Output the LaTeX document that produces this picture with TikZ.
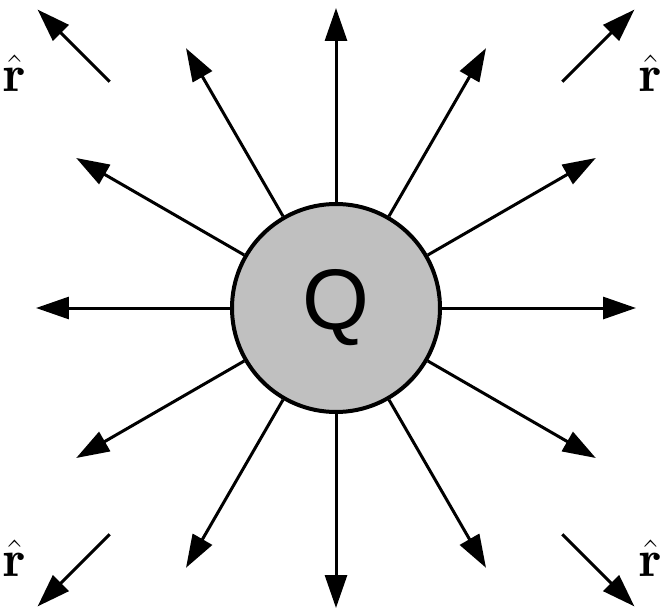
\documentclass[tikz,border=0pt]{standalone}
\usepackage{amsmath,amssymb,bm}
\usepackage{fontspec}
\usepackage{tikz}
\usetikzlibrary{arrows.meta}
\newfontfamily\chargefont{Liberation Sans}
\definecolor{chargegray}{RGB}{192,192,192}

\begin{document}
\begin{tikzpicture}[x=0.5pt, y=0.5pt,
    field/.style={line width=1.5pt, -{Triangle[length=16.5pt, width=11pt]}},
    rlabel/.style={font=\fontsize{26}{26}\selectfont}]
    \useasboundingbox (-336,-302) rectangle (327,308);

    % The charge: grey disc in the middle
    \node[draw, circle, line width=2pt, fill=chargegray, minimum size=104pt,
          inner sep=0pt, font=\chargefont\fontsize{43}{43}\selectfont] (Q) at (0,0) {Q};

    % Field lines: twelve radial arrows, one every 30 degrees
    \foreach \a in {0,30,...,330} {
      \coordinate (T\a) at (\a:300);
      \draw[field] (Q.\a) -- (T\a);
    }

    % Unit vectors in the corners
    \foreach \a/\n in {45/1,135/2,225/3,315/4} {
      \coordinate (S\n) at (\a:320);
      \coordinate (E\n) at (\a:422);
      \draw[field] (S\n) -- (E\n);
    }
    \node[rlabel] (R1) at (315,235) {$\hat{\mathbf{r}}$};
    \node[rlabel] (R2) at (-321,235) {$\hat{\mathbf{r}}$};
    \node[rlabel] (R3) at (-321,-250) {$\hat{\mathbf{r}}$};
    \node[rlabel] (R4) at (315,-250) {$\hat{\mathbf{r}}$};
  \end{tikzpicture}
\end{document}
